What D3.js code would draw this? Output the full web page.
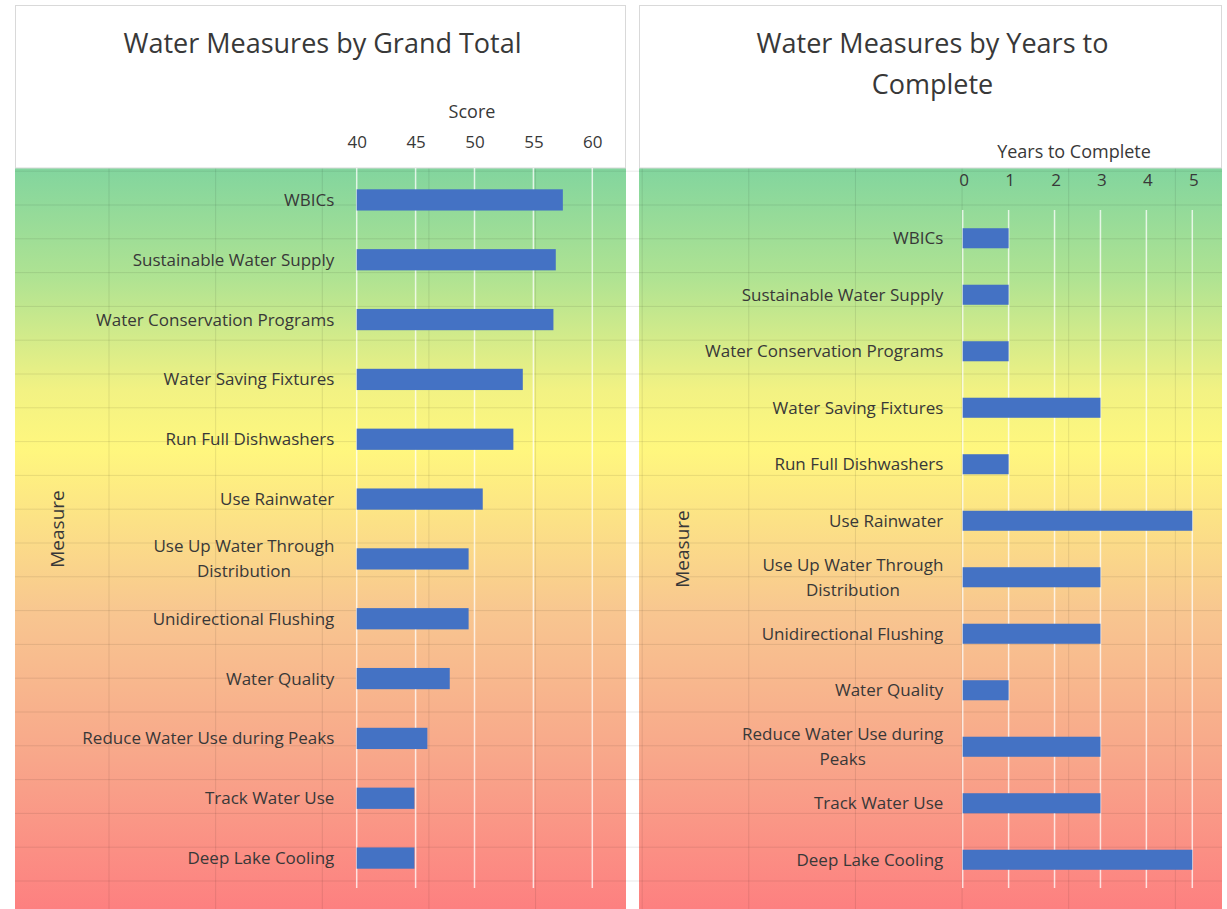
<!DOCTYPE html>
<html>
<head>
<meta charset="utf-8">
<script src="https://cdn.jsdelivr.net/npm/d3@7"></script>
<style>
  html, body { margin: 0; padding: 0; background: #ffffff; }
  svg { display: block; font-family: "Open Sans", "Noto Sans", sans-serif; }
</style>
</head>
<body>
<svg id="chart" width="1227" height="909"></svg>
<script>
// ---------------- data ----------------
const categories = [
  "WBICs",
  "Sustainable Water Supply",
  "Water Conservation Programs",
  "Water Saving Fixtures",
  "Run Full Dishwashers",
  "Use Rainwater",
  "Use Up Water Through Distribution",
  "Unidirectional Flushing",
  "Water Quality",
  "Reduce Water Use during Peaks",
  "Track Water Use",
  "Deep Lake Cooling"
];
const scores = [57.5, 56.9, 56.7, 54.1, 53.3, 50.7, 49.5, 49.5, 47.9, 46.0, 44.9, 44.9];
const years = [1, 1, 1, 3, 1, 5, 3, 3, 1, 3, 3, 5];
const scoreTicks = [40, 45, 50, 55, 60];
const yearTicks = [0, 1, 2, 3, 4, 5];
const titles = ["Water Measures by Grand Total", "Water Measures by Years to Complete"];
const xTitles = ["Score", "Years to Complete"];
const yTitle = "Measure";

// ---------------- layout ----------------
const W = 1227, H = 909;
const svg = d3.select("#chart");
const textColor = "#383838";
const barColor = "#4472C4";
const gradTop = 168;

const defs = svg.append("defs");
const grad = defs.append("linearGradient")
  .attr("id", "bg").attr("gradientUnits", "userSpaceOnUse")
  .attr("x1", 0).attr("x2", 0).attr("y1", gradTop).attr("y2", H);
[[0, "#82d59e"], [0.15, "#b0e392"], [0.3, "#f2f283"], [0.38, "#fff77e"],
 [0.6, "#f8c690"], [0.8, "#f8a68a"], [1, "#fd8080"]].forEach(([o, c]) =>
  grad.append("stop").attr("offset", o).attr("stop-color", c));

const panels = [
  {
    box: [15, 626], values: scores, domain: [40, 60], ticks: scoreTicks,
    xRange: [356.7, 592.3], band: [170, 888], gridTop: 168,
    title: [titles[0]], titleY: [53],
    xTitle: xTitles[0], xTitleX: 472, xTitleY: 118, tickY: 148, tickDx: 0,
    labelPad: 22.4, wrapWidth: 268, measureX: 57
  },
  {
    box: [639, 1222], values: years, domain: [0, 5], ticks: yearTicks,
    xRange: [962.7, 1192.3], band: [210, 888], gridTop: 210,
    title: ["Water Measures by Years to", "Complete"], titleY: [53, 94],
    xTitle: xTitles[1], xTitleX: 1074, xTitleY: 158, tickY: 186, tickDx: 1,
    labelPad: 19.4, wrapWidth: 249, measureX: 682
  }
];

// gradient backgrounds
panels.forEach(p => {
  svg.append("rect").attr("x", p.box[0]).attr("y", gradTop)
    .attr("width", p.box[1] - p.box[0]).attr("height", H - gradTop)
    .attr("fill", "url(#bg)");
});

// spreadsheet cell lines (only across the panels and the gap between them)
const sheet = svg.append("g").attr("stroke", "rgba(0,0,0,0.09)").attr("stroke-width", 1);
for (let y = 171.2; y < H; y += 33.8) {
  sheet.append("line").attr("x1", 15).attr("x2", 1222).attr("y1", y).attr("y2", y);
}
for (let k = 1; k <= 11; k++) {
  const x = 2.4 + k * 106.63;
  sheet.append("line").attr("x1", x).attr("x2", x).attr("y1", gradTop).attr("y2", H);
}

// white header boxes
panels.forEach(p => {
  svg.append("rect").attr("x", p.box[0] + 0.5).attr("y", 5.5)
    .attr("width", p.box[1] - p.box[0] - 1).attr("height", gradTop - 5.5)
    .attr("fill", "#ffffff").attr("stroke", "#d9d9d9").attr("stroke-width", 1);
});

panels.forEach((p, pi) => {
  const g = svg.append("g");
  const x = d3.scaleLinear().domain(p.domain).range(p.xRange);
  const y = d3.scaleBand().domain(categories).range(p.band)
    .paddingInner(0.645).paddingOuter(0.3225);

  // title
  p.title.forEach((t, i) => {
    g.append("text").attr("x", (p.box[0] + p.box[1]) / 2 + 2).attr("y", p.titleY[i])
      .attr("text-anchor", "middle").attr("font-size", 27).attr("fill", textColor)
      .text(t);
  });

  // vertical gridlines
  g.append("g").selectAll("line").data(p.ticks).join("line")
    .attr("x1", d => x(d)).attr("x2", d => x(d))
    .attr("y1", p.gridTop).attr("y2", p.band[1])
    .attr("stroke", "rgba(255,255,255,0.75)").attr("stroke-width", 1.5);

  // x axis (top)
  const ax = g.append("g").attr("transform", `translate(${p.tickDx},${p.tickY})`)
    .call(d3.axisTop(x).tickValues(p.ticks).tickSize(0).tickPadding(0).tickFormat(d3.format("d")));
  ax.select(".domain").remove();
  ax.selectAll("text").attr("font-size", 17).attr("fill", textColor)
    .attr("font-family", "Open Sans, Noto Sans, sans-serif");

  g.append("text").attr("x", p.xTitleX).attr("y", p.xTitleY)
    .attr("text-anchor", "middle").attr("font-size", 18).attr("fill", textColor)
    .text(p.xTitle);

  // bars
  g.append("g").selectAll("rect").data(categories).join("rect")
    .attr("x", x(p.domain[0]))
    .attr("y", (d) => y(d))
    .attr("width", (d, i) => x(p.values[i]) - x(p.domain[0]))
    .attr("height", y.bandwidth())
    .attr("fill", barColor);

  // y axis labels (wrapped, centered block, right aligned)
  const ay = g.append("g").attr("transform", `translate(${p.xRange[0]},0)`)
    .call(d3.axisLeft(y).tickSize(0).tickPadding(p.labelPad));
  ay.select(".domain").remove();
  ay.selectAll(".tick text").each(function(d) {
    const t = d3.select(this);
    t.attr("font-size", 17).attr("fill", textColor)
      .attr("font-family", "Open Sans, Noto Sans, sans-serif");
    const words = d.split(" ");
    const lines = [];
    let cur = [];
    t.text("");
    const probe = t.append("tspan");
    words.forEach(w => {
      const test = cur.concat([w]).join(" ");
      probe.text(test);
      if (probe.node().getComputedTextLength() > p.wrapWidth && cur.length) {
        lines.push(cur.join(" "));
        cur = [w];
      } else cur.push(w);
    });
    lines.push(cur.join(" "));
    probe.remove();
    let maxW = 0;
    lines.forEach(l => {
      const s = t.append("tspan").text(l);
      maxW = Math.max(maxW, s.node().getComputedTextLength());
      s.remove();
    });
    const cx = -p.labelPad - maxW / 2;
    t.attr("text-anchor", "middle").attr("x", cx).attr("dy", null);
    const lh = 25;
    lines.forEach((l, i) => {
      t.append("tspan").attr("x", cx)
        .attr("y", (i - (lines.length - 1) / 2) * lh)
        .attr("dy", "0.35em").text(l);
    });
  });

  // y title
  const cy = (p.band[0] + p.band[1]) / 2;
  g.append("text").attr("transform", `translate(${p.measureX},${cy}) rotate(-90)`)
    .attr("text-anchor", "middle").attr("dy", "0.35em")
    .attr("font-size", 19).attr("fill", textColor).text(yTitle);
});
</script>
</body>
</html>
